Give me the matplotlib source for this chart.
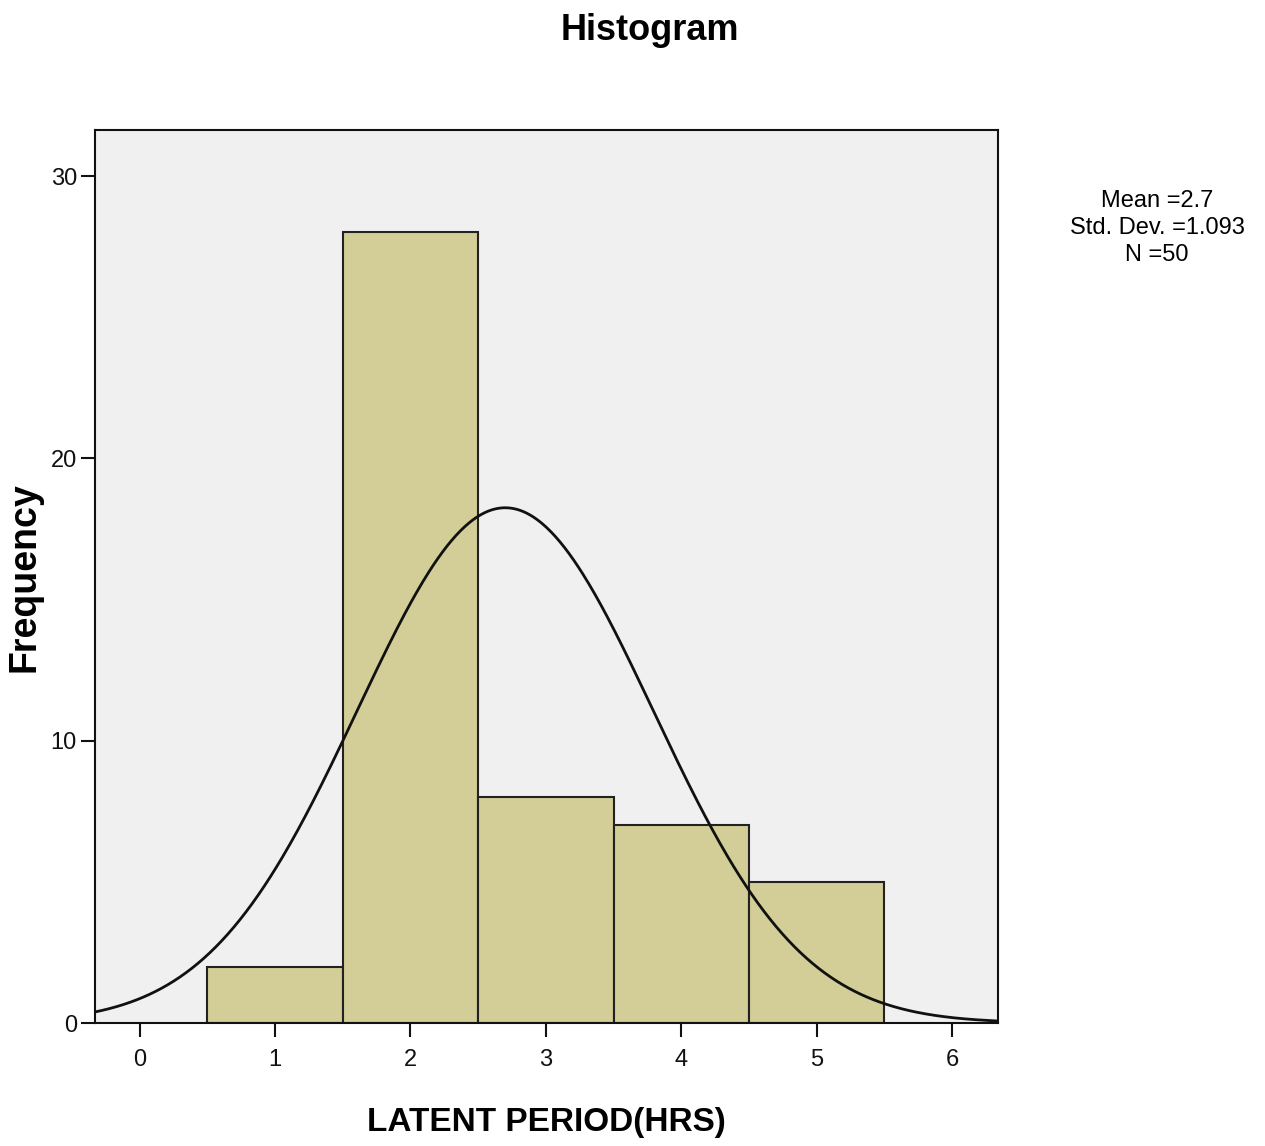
import numpy as np
import matplotlib
matplotlib.use("Agg")
import matplotlib.pyplot as plt

bin_edges = [0.5, 1.5, 2.5, 3.5, 4.5, 5.5]
counts = [2, 28, 8, 7, 5]
mean_val = 2.7
std_val = 1.093
n_val = 50
x_ticks = [0, 1, 2, 3, 4, 5, 6]
y_ticks = [0, 10, 20, 30]

fam = ['Liberation Sans', 'DejaVu Sans']
plt.rcParams['font.family'] = fam

fig = plt.figure(figsize=(12.65, 11.46), dpi=100)
ax = fig.add_axes([95/1265, 1-1023/1146, (998-95)/1265, (1023-130)/1146])
ax.set_facecolor('#f0f0f0')

lefts = bin_edges[:-1]
widths = np.diff(bin_edges)
ax.bar(lefts, counts, width=widths, align='edge', color='#d3ce97',
       edgecolor='#222222', linewidth=1.5, zorder=2)

xs = np.linspace(-0.34, 6.34, 600)
bw = widths[0]
ys = n_val * bw / (std_val * np.sqrt(2*np.pi)) * np.exp(-0.5*((xs-mean_val)/std_val)**2)
ax.plot(xs, ys, color='#111111', linewidth=2, zorder=3)

ax.set_xlim(-0.33, 6.34)
ax.set_ylim(0, 31.63)
ax.set_xticks(x_ticks)
ax.set_yticks(y_ticks)
ax.tick_params(axis='both', direction='out', length=10, width=1.5, labelsize=17, colors='#111111')
ax.tick_params(axis='x', pad=9)
ax.tick_params(axis='y', pad=3)
for s in ax.spines.values():
    s.set_linewidth(1.5)
    s.set_color('#111111')

ax.set_xlabel('LATENT PERIOD(HRS)', fontsize=24, fontweight='bold', labelpad=26)
fig.text(25/1265, 1-577/1146, 'Frequency', rotation=90, ha='center', va='center',
         fontsize=27, fontweight='bold')
fig.text(650/1265, 1-30/1146, 'Histogram', ha='center', va='center',
         fontsize=26, fontweight='bold')
fig.text(1157/1265, 1-228/1146, f'Mean ={mean_val}\nStd. Dev. ={std_val}\nN ={n_val}',
         ha='center', va='center', fontsize=17, linespacing=1.3)

fig.savefig('out.png', dpi=100)
